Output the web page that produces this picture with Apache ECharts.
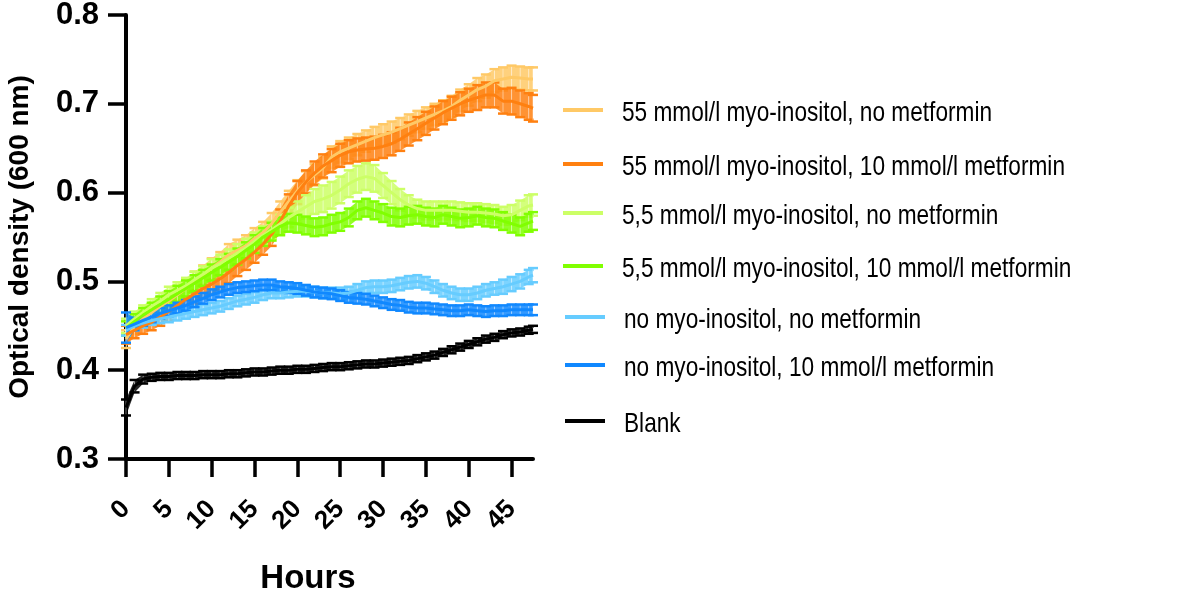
<!DOCTYPE html>
<html>
<head>
<meta charset="utf-8">
<script src="https://cdn.jsdelivr.net/npm/echarts@6/dist/echarts.min.js"></script>
<style>
html,body{margin:0;padding:0;background:#fff;}
#chart{width:1192px;height:597px;}
</style>
</head>
<body>
<div id="chart"></div>
<script>
const hours = [0,1,2,3,4,5,6,7,8,9,10,11,12,13,14,15,16,17,18,19,20,21,22,23,24,25,26,27,28,29,30,31,32,33,34,35,36,37,38,39,40,41,42,43,44,45,46,47,47.5];
const xTickValues = [0,5,10,15,20,25,30,35,40,45];
const yTickLabels = [0.3,0.4,0.5,0.6,0.7,0.8];

const seriesNames = [
  '55 mmol/l myo-inositol, no metformin',
  '55 mmol/l myo-inositol, 10 mmol/l metformin',
  '5,5 mmol/l myo-inositol, no metformin',
  '5,5 mmol/l myo-inositol, 10 mmol/l metformin',
  'no myo-inositol, no metformin',
  'no myo-inositol, 10 mmol/l metformin',
  'Blank'
];
const seriesColors = ['#FFC966','#FF8010','#CCFF66','#80FF00','#66CCFF','#1088FF','#000000'];

// mean optical density per hour
const ino55NoMet = [0.435,0.45,0.458,0.465,0.472,0.478,0.485,0.492,0.5,0.507,0.515,0.522,0.53,0.535,0.54,0.548,0.555,0.565,0.578,0.59,0.602,0.612,0.62,0.628,0.64,0.646,0.65,0.654,0.658,0.662,0.665,0.668,0.672,0.676,0.68,0.684,0.688,0.692,0.697,0.704,0.71,0.716,0.72,0.726,0.728,0.73,0.729,0.728,0.728];
const ino55Met = [0.44,0.445,0.45,0.454,0.46,0.466,0.473,0.48,0.486,0.492,0.497,0.503,0.51,0.518,0.525,0.533,0.542,0.553,0.568,0.585,0.6,0.612,0.622,0.63,0.636,0.642,0.646,0.648,0.649,0.65,0.652,0.655,0.66,0.666,0.672,0.678,0.684,0.69,0.695,0.7,0.704,0.707,0.71,0.71,0.703,0.703,0.7,0.697,0.695];
const ino5NoMet = [0.45,0.458,0.465,0.472,0.478,0.485,0.49,0.495,0.502,0.508,0.515,0.52,0.526,0.532,0.538,0.545,0.552,0.558,0.565,0.572,0.578,0.584,0.59,0.593,0.597,0.603,0.61,0.615,0.618,0.616,0.608,0.6,0.592,0.586,0.582,0.58,0.58,0.58,0.58,0.579,0.578,0.578,0.577,0.576,0.574,0.575,0.58,0.585,0.586];
const ino5Met = [0.447,0.455,0.462,0.468,0.474,0.48,0.486,0.492,0.498,0.504,0.51,0.516,0.522,0.528,0.535,0.542,0.55,0.556,0.562,0.566,0.565,0.563,0.561,0.562,0.565,0.567,0.572,0.58,0.583,0.58,0.577,0.573,0.572,0.574,0.575,0.573,0.572,0.575,0.573,0.571,0.572,0.574,0.572,0.571,0.568,0.565,0.562,0.566,0.568];
const noInoNoMet = [0.445,0.45,0.453,0.456,0.458,0.46,0.462,0.464,0.466,0.468,0.47,0.472,0.475,0.478,0.48,0.482,0.485,0.487,0.487,0.488,0.489,0.489,0.488,0.487,0.487,0.486,0.487,0.49,0.493,0.494,0.494,0.495,0.497,0.499,0.5,0.498,0.494,0.49,0.487,0.485,0.485,0.487,0.49,0.492,0.494,0.497,0.5,0.505,0.507];
const noInoMet = [0.448,0.452,0.456,0.46,0.464,0.467,0.47,0.473,0.477,0.481,0.485,0.488,0.491,0.493,0.494,0.495,0.496,0.496,0.494,0.493,0.492,0.49,0.488,0.487,0.486,0.484,0.482,0.481,0.48,0.478,0.476,0.474,0.473,0.471,0.47,0.47,0.469,0.468,0.467,0.467,0.468,0.467,0.466,0.467,0.467,0.468,0.468,0.468,0.468];
const blank = [0.358,0.382,0.39,0.392,0.393,0.393,0.394,0.394,0.394,0.395,0.395,0.395,0.396,0.396,0.397,0.398,0.398,0.399,0.4,0.4,0.401,0.401,0.402,0.403,0.404,0.404,0.405,0.406,0.407,0.407,0.408,0.409,0.41,0.411,0.413,0.415,0.417,0.42,0.423,0.426,0.429,0.432,0.435,0.437,0.44,0.442,0.443,0.445,0.446];

// error (half-height of error bar)
const ino55NoMetErr = [0.01,0.009,0.009,0.009,0.01,0.01,0.01,0.01,0.011,0.011,0.011,0.011,0.012,0.012,0.012,0.012,0.012,0.012,0.012,0.012,0.012,0.012,0.012,0.012,0.012,0.012,0.012,0.012,0.012,0.012,0.012,0.012,0.012,0.012,0.012,0.012,0.012,0.012,0.012,0.012,0.012,0.013,0.013,0.013,0.013,0.013,0.013,0.013,0.013];
const ino55MetErr = [0.01,0.009,0.009,0.009,0.01,0.01,0.01,0.01,0.011,0.011,0.011,0.012,0.012,0.012,0.012,0.012,0.012,0.013,0.013,0.013,0.013,0.013,0.013,0.013,0.013,0.013,0.013,0.013,0.013,0.013,0.013,0.013,0.013,0.013,0.013,0.013,0.013,0.013,0.013,0.013,0.013,0.014,0.014,0.014,0.014,0.015,0.015,0.015,0.015];
const ino5NoMetErr = [0.008,0.008,0.008,0.008,0.009,0.009,0.009,0.009,0.009,0.009,0.01,0.01,0.01,0.01,0.01,0.01,0.01,0.01,0.01,0.011,0.012,0.013,0.014,0.015,0.015,0.015,0.015,0.015,0.015,0.015,0.014,0.013,0.012,0.011,0.01,0.01,0.01,0.01,0.01,0.01,0.01,0.01,0.01,0.01,0.01,0.011,0.011,0.012,0.012];
const ino5MetErr = [0.008,0.008,0.008,0.008,0.009,0.009,0.009,0.009,0.009,0.009,0.009,0.009,0.009,0.009,0.009,0.01,0.01,0.01,0.01,0.01,0.01,0.01,0.01,0.01,0.01,0.01,0.01,0.01,0.01,0.01,0.01,0.01,0.01,0.01,0.01,0.01,0.01,0.01,0.01,0.01,0.01,0.01,0.01,0.01,0.01,0.01,0.01,0.01,0.01];
const noInoNoMetErr = [0.006,0.005,0.005,0.005,0.005,0.006,0.006,0.006,0.006,0.006,0.006,0.006,0.006,0.006,0.006,0.006,0.006,0.006,0.006,0.006,0.006,0.006,0.006,0.006,0.006,0.007,0.007,0.007,0.007,0.007,0.007,0.007,0.007,0.007,0.007,0.007,0.007,0.007,0.007,0.007,0.007,0.007,0.007,0.007,0.008,0.008,0.008,0.008,0.008];
const noInoMetErr = [0.017,0.007,0.006,0.006,0.006,0.006,0.006,0.006,0.006,0.006,0.006,0.006,0.006,0.006,0.006,0.006,0.006,0.006,0.006,0.006,0.006,0.006,0.006,0.006,0.006,0.006,0.006,0.006,0.006,0.006,0.006,0.006,0.006,0.006,0.006,0.006,0.006,0.006,0.006,0.006,0.006,0.006,0.006,0.006,0.006,0.006,0.006,0.006,0.006];
const blankErr = [0.009,0.007,0.005,0.004,0.004,0.004,0.004,0.004,0.004,0.004,0.004,0.004,0.004,0.004,0.004,0.004,0.004,0.004,0.004,0.004,0.004,0.004,0.004,0.004,0.004,0.004,0.004,0.004,0.004,0.004,0.004,0.004,0.004,0.004,0.004,0.004,0.004,0.004,0.004,0.004,0.004,0.004,0.004,0.004,0.004,0.004,0.004,0.004,0.004];

const means = [ino55NoMet, ino55Met, ino5NoMet, ino5Met, noInoNoMet, noInoMet, blank];
const errs = [ino55NoMetErr, ino55MetErr, ino5NoMetErr, ino5MetErr, noInoNoMetErr, noInoMetErr, blankErr];

// legend text: Arial-like sans compressed horizontally (narrow look of the original)
const legendFontSize = 28;
let legendScaleX = 0.8;
(function fit() {
  const ctx = document.createElement('canvas').getContext('2d');
  ctx.font = legendFontSize + 'px "Liberation Sans", Arial, sans-serif';
  const w = ctx.measureText(seriesNames[1]).width;
  legendScaleX = 443 / w;
})();

const legendRowY = [110, 164, 213, 266, 317, 365, 421];
const legendLeft = [563, 563, 563, 563, 565, 565, 565];

const chart = echarts.init(document.getElementById('chart'), null, {renderer: 'canvas'});

const series = [];
seriesNames.forEach((name, i) => {
  const color = seriesColors[i];
  const m = means[i], e = errs[i];
  series.push({
    type: 'custom',
    name: name,
    color: color,
    silent: true,
    data: hours.map((h, j) => [h, m[j] - e[j], m[j] + e[j]]),
    renderItem: function (params, api) {
      const j = params.dataIndex;
      const x = api.value(0);
      const lo = api.coord([x, api.value(1)]);
      const hi = api.coord([x, api.value(2)]);
      const w = 5;
      const st = {stroke: color, lineWidth: 2.5};
      const children = [];
      if (j < hours.length - 1) {
        const lo2 = api.coord([hours[j + 1], m[j + 1] - e[j + 1]]);
        const hi2 = api.coord([hours[j + 1], m[j + 1] + e[j + 1]]);
        children.push({type: 'polygon', shape: {points: [lo, lo2, hi2, hi]}, style: {fill: color, opacity: 0.85}});
      }
      children.push({type: 'line', shape: {x1: lo[0], y1: lo[1], x2: hi[0], y2: hi[1]}, style: {stroke: '#ffffff', lineWidth: 1, opacity: 0.45}});
      children.push({type: 'line', shape: {x1: lo[0] - w, y1: lo[1], x2: lo[0] + w, y2: lo[1]}, style: st});
      children.push({type: 'line', shape: {x1: hi[0] - w, y1: hi[1], x2: hi[0] + w, y2: hi[1]}, style: st});
      return {type: 'group', children: children};
    }
  });
  series.push({
    type: 'line',
    name: name,
    color: color,
    showSymbol: false,
    symbol: 'none',
    lineStyle: {width: 3, color: color},
    data: hours.map((h, j) => [h, m[j]])
  });
});

const option = {
  animation: false,
  backgroundColor: '#ffffff',
  grid: {left: 126, right: 659, top: 15, bottom: 138, containLabel: false, outerBoundsMode: 'none'},
  xAxis: {
    type: 'value',
    min: 0,
    max: 47.5,
    interval: 5,
    name: 'Hours',
    nameLocation: 'middle',
    nameGap: 103,
    nameTextStyle: {fontFamily: 'Liberation Sans', fontWeight: 'bold', fontSize: 33, color: '#000', padding: [0, 43, 0, 0]},
    splitLine: {show: false},
    axisLine: {show: true, lineStyle: {color: '#000', width: 4}},
    axisTick: {show: true, length: 18, lineStyle: {color: '#000', width: 3.5}, customValues: xTickValues},
    axisLabel: {
      customValues: xTickValues,
      rotate: 45,
      margin: 46,
      fontFamily: 'Liberation Sans',
      fontWeight: 'bold',
      fontSize: 26,
      color: '#000'
    }
  },
  yAxis: {
    type: 'value',
    min: 0.3,
    max: 0.8,
    interval: 0.1,
    name: 'Optical density (600 nm)',
    nameLocation: 'middle',
    nameGap: 92,
    nameTextStyle: {fontFamily: 'Liberation Sans', fontWeight: 'bold', fontSize: 28, color: '#000'},
    splitLine: {show: false},
    axisLine: {show: true, lineStyle: {color: '#000', width: 4}},
    axisTick: {show: true, length: 18, lineStyle: {color: '#000', width: 3.5}},
    axisLabel: {
      margin: 27,
      fontFamily: 'Liberation Sans',
      fontWeight: 'bold',
      fontSize: 31,
      color: '#000',
      formatter: v => yTickLabels.find(t => Math.abs(t - v) < 1e-9).toFixed(1)
    }
  },
  // legend keys (line swatches); the names are drawn as narrow text beside them
  legend: seriesNames.map((n, i) => ({
    data: [n],
    left: legendLeft[i],
    top: legendRowY[i] - 2,
    padding: 0,
    orient: 'vertical',
    icon: 'rect',
    itemWidth: 40,
    itemHeight: 4,
    selectedMode: false,
    formatter: () => '',
    textStyle: {fontSize: 1, lineHeight: 4}
  })),
  graphic: seriesNames.map((n, i) => ({
    type: 'text',
    silent: true,
    x: legendLeft[i] + 59,
    y: legendRowY[i] + 3,
    scaleX: legendScaleX,
    style: {
      text: n,
      fill: '#000',
      font: legendFontSize + 'px "Liberation Sans", Arial, sans-serif',
      textAlign: 'left',
      textVerticalAlign: 'middle'
    }
  })),
  series: series
};
chart.setOption(option);
</script>
</body>
</html>
